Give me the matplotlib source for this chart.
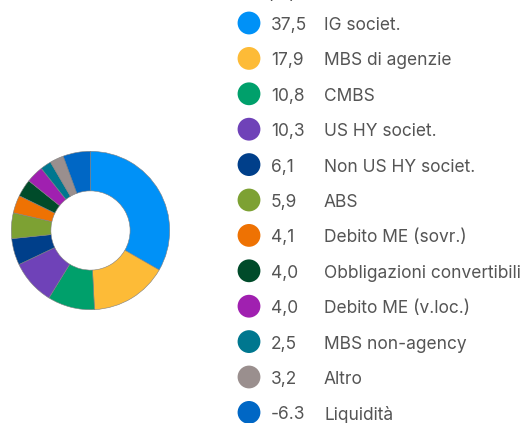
import matplotlib.pyplot as plt
import numpy as np

# dati (%)
labels = ['IG societ.', 'MBS di agenzie', 'CMBS', 'US HY societ.', 'Non US HY societ.',
          'ABS', 'Debito ME (sovr.)', 'Obbligazioni convertibili', 'Debito ME (v.loc.)',
          'MBS non-agency', 'Altro', 'Liquidità']
values = [37.5, 17.9, 10.8, 10.3, 6.1, 5.9, 4.1, 4.0, 4.0, 2.5, 3.2, -6.3]
value_labels = ['37,5', '17,9', '10,8', '10,3', '6,1', '5,9', '4,1', '4,0', '4,0',
                '2,5', '3,2', '-6.3']
colors = ['#0091F7', '#FDBB37', '#00A06B', '#6F42B8', '#003F8A', '#7DA133',
          '#EE7203', '#004B2A', '#A020B0', '#00778F', '#9A8F8E', '#0067C5']

W, H = 526, 423
fig = plt.figure(figsize=(W / 100, H / 100), dpi=100)
plt.rcParams['font.family'] = ['Inter', 'DejaVu Sans']

# ciambella
cx, cy, r = 90.5, 230.5, 80
ax = fig.add_axes([(cx - r) / W, (H - cy - r) / H, 2 * r / W, 2 * r / H])
ax.pie(np.abs(values), colors=colors, startangle=90, counterclock=False,
       radius=1, wedgeprops=dict(width=0.5, edgecolor='#808080', linewidth=0.4))
ax.set_xlim(-1.01, 1.01)
ax.set_ylim(-1.01, 1.01)
ax.set_aspect('equal')

# legenda
lg = fig.add_axes([0, 0, 1, 1])
lg.set_xlim(0, W)
lg.set_ylim(H, 0)
lg.axis('off')
y0, dy = 23, 35.4
ys = y0 + dy * np.arange(len(labels))
lg.scatter(np.full(len(labels), 249), ys, s=270, c=colors, edgecolors='none')
for y, v, lab in zip(ys, value_labels, labels):
    lg.text(271, y + 2.5, v, fontsize=12.5, color='#555555', va='center', ha='left')
    lg.text(324, y + 2.5, lab, fontsize=12.5, color='#555555', va='center', ha='left')
lg.text(266, -1, '(%)', fontsize=12.5, color='#555555', va='baseline', ha='left')

fig.savefig('out.png', dpi=100)
